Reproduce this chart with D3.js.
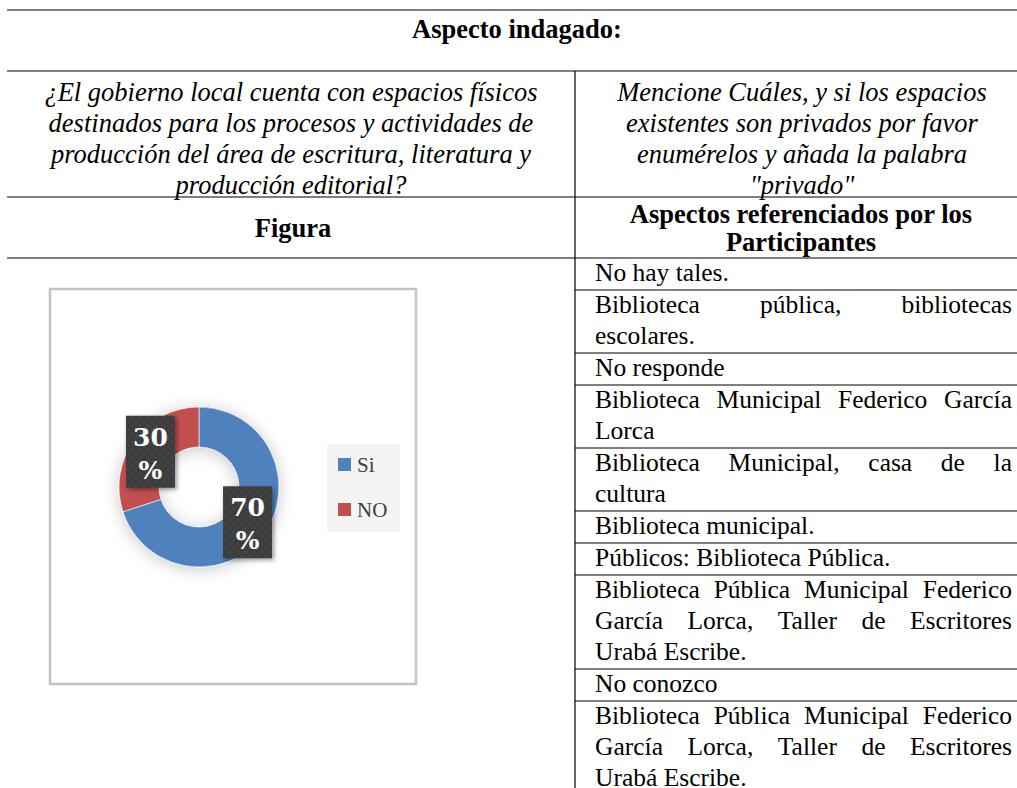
<!DOCTYPE html>
<html>
<head>
<meta charset="utf-8">
<script src="https://cdn.jsdelivr.net/npm/d3@7"></script>
<style>
	body { margin: 0; background: #fff; }
	svg { display: block; }
</style>
</head>
<body>
<div id="chart"></div>
<script>
// data
const categories = ["Si", "NO"];
const values = [70, 30];
const sliceColors = ["#4f81bd", "#c0504d"];

const title = "Aspecto indagado:";
const questionLeft = [
	"¿El gobierno local cuenta con espacios físicos",
	"destinados para los procesos y actividades de",
	"producción del área de escritura, literatura y",
	"producción editorial?"
];
const questionRight = [
	"Mencione Cuáles, y si los espacios",
	"existentes son privados por favor",
	"enumérelos y añada la palabra",
	"\"privado\""
];
const headLeft = "Figura";
const headRight = ["Aspectos referenciados por los", "Participantes"];

const answers = [
	["No hay tales."],
	["Biblioteca pública, bibliotecas", "escolares."],
	["No responde"],
	["Biblioteca Municipal Federico García", "Lorca"],
	["Biblioteca Municipal, casa de la", "cultura"],
	["Biblioteca municipal."],
	["Públicos: Biblioteca Pública."],
	["Biblioteca Pública Municipal Federico", "García Lorca, Taller de Escritores", "Urabá Escribe."],
	["No conozco"],
	["Biblioteca Pública Municipal Federico", "García Lorca, Taller de Escritores", "Urabá Escribe."]
];

const width = 1017;
const height = 788;
const serif = "'Liberation Serif', 'Times New Roman', serif";
const fs = 25.5;
const headFs = 26.5;
const lineH = 31;

const svg = d3.select("#chart")
	.append("svg")
	.attr("width", width)
	.attr("height", height);

const defs = svg.append("defs");

const shadow = defs.append("filter")
	.attr("id", "ringShadow")
	.attr("x", "-30%").attr("y", "-30%")
	.attr("width", "160%").attr("height", "160%");
shadow.append("feDropShadow")
	.attr("dx", 0).attr("dy", 2)
	.attr("stdDeviation", 8)
	.attr("flood-color", "#000")
	.attr("flood-opacity", 0.22);

const boxShadow = defs.append("filter")
	.attr("id", "boxShadow")
	.attr("x", "-30%").attr("y", "-30%")
	.attr("width", "160%").attr("height", "160%");
boxShadow.append("feDropShadow")
	.attr("dx", 2).attr("dy", 2)
	.attr("stdDeviation", 2)
	.attr("flood-color", "#000")
	.attr("flood-opacity", 0.4);

const dots = defs.append("pattern")
	.attr("id", "dots")
	.attr("width", 8).attr("height", 8)
	.attr("patternUnits", "userSpaceOnUse");
dots.append("rect").attr("width", 8).attr("height", 8).attr("fill", "#3d3d3d");
dots.append("circle").attr("cx", 2).attr("cy", 2).attr("r", 1).attr("fill", "#4d4d4d");
dots.append("circle").attr("cx", 6).attr("cy", 6).attr("r", 1).attr("fill", "#4d4d4d");

// table grid
const xLeft = 7;
const xMid = 575;
const xRight = width;
const rowTop = 258;

const grid = svg.append("g")
	.attr("stroke", "#000")
	.attr("stroke-width", 1.2);

[10, 71, 197, rowTop].forEach((y) => {
	grid.append("line")
		.attr("x1", xLeft).attr("x2", xRight)
		.attr("y1", y).attr("y2", y);
});

grid.append("line")
	.attr("x1", xMid).attr("x2", xMid)
	.attr("y1", 71).attr("y2", height);

// row tops for the answers
let rowYs = [];
let yAcc = rowTop;
answers.forEach((lines) => {
	rowYs.push(yAcc);
	yAcc += lines.length * lineH + 1;
});

rowYs.slice(1).forEach((y) => {
	grid.append("line")
		.attr("x1", xMid).attr("x2", xRight)
		.attr("y1", y).attr("y2", y);
});

// headers
svg.append("text")
	.attr("x", (xLeft + xRight) / 2 + 5)
	.attr("y", 38)
	.attr("text-anchor", "middle")
	.attr("font-family", serif)
	.attr("font-weight", "bold")
	.attr("font-size", headFs)
	.text(title);

questionLeft.forEach((t, i) => {
	svg.append("text")
		.attr("x", (xLeft + xMid) / 2)
		.attr("y", 101 + i * lineH)
		.attr("text-anchor", "middle")
		.attr("font-family", serif)
		.attr("font-style", "italic")
		.attr("font-size", headFs)
		.text(t);
});

questionRight.forEach((t, i) => {
	svg.append("text")
		.attr("x", (xMid + xRight) / 2 + 6)
		.attr("y", 101 + i * lineH)
		.attr("text-anchor", "middle")
		.attr("font-family", serif)
		.attr("font-style", "italic")
		.attr("font-size", headFs)
		.text(t);
});

svg.append("text")
	.attr("x", (xLeft + xMid) / 2 + 2)
	.attr("y", 237)
	.attr("text-anchor", "middle")
	.attr("font-family", serif)
	.attr("font-weight", "bold")
	.attr("font-size", headFs)
	.text(headLeft);

headRight.forEach((t, i) => {
	svg.append("text")
		.attr("x", (xMid + xRight) / 2 + 5)
		.attr("y", 223 + i * 28)
		.attr("text-anchor", "middle")
		.attr("font-family", serif)
		.attr("font-weight", "bold")
		.attr("font-size", headFs)
		.text(t);
});

// answers, justified like the document
const textL = 595;
const textR = 1012;

function justifiedLine(g, str, y, justify) {
	const words = str.split(" ");
	if (!justify || words.length < 2) {
		g.append("text")
			.attr("x", textL).attr("y", y)
			.attr("font-family", serif)
			.attr("font-size", fs)
			.text(str);
		return;
	}
	const nodes = words.map((w) => g.append("text")
		.attr("y", y)
		.attr("font-family", serif)
		.attr("font-size", fs)
		.text(w));
	const widths = nodes.map((n) => n.node().getComputedTextLength());
	const gap = (textR - textL - d3.sum(widths)) / (words.length - 1);
	let x = textL;
	nodes.forEach((n, i) => {
		n.attr("x", x);
		x += widths[i] + gap;
	});
}

const answersG = svg.append("g");
answers.forEach((lines, r) => {
	lines.forEach((t, i) => {
		justifiedLine(answersG, t, rowYs[r] + 23 + i * lineH, i < lines.length - 1);
	});
});

// chart frame
svg.append("rect")
	.attr("x", 50).attr("y", 289)
	.attr("width", 366).attr("height", 395)
	.attr("fill", "#fff")
	.attr("stroke", "#c3c3c3")
	.attr("stroke-width", 2.5);

// donut
const cx = 199;
const cy = 487;
const outerR = 80;
const innerR = 40;

const pie = d3.pie().sort(null).value((d) => d);
const arc = d3.arc().innerRadius(innerR).outerRadius(outerR);
const color = d3.scaleOrdinal().domain(categories).range(sliceColors);

const arcs = pie(values);

const donut = svg.append("g")
	.attr("transform", "translate(" + cx + "," + cy + ")");

donut.append("g")
	.attr("filter", "url(#ringShadow)")
	.selectAll("path")
	.data(arcs)
	.enter()
	.append("path")
	.attr("d", arc)
	.attr("fill", (d, i) => color(categories[i]))
	.attr("stroke", "#fff")
	.attr("stroke-width", 0.6);

// data labels
const boxW = 49;
const boxH = 72;
const labels = donut.selectAll("g.label")
	.data(arcs)
	.enter()
	.append("g")
	.attr("class", "label")
	.attr("transform", (d) => "translate(" + arc.centroid(d) + ")");

labels.append("rect")
	.attr("x", -boxW / 2).attr("y", -boxH / 2)
	.attr("width", boxW).attr("height", boxH)
	.attr("fill", "url(#dots)")
	.attr("filter", "url(#boxShadow)");

labels.append("text")
	.attr("y", -6)
	.attr("text-anchor", "middle")
	.attr("font-family", "'DejaVu Serif', serif")
	.attr("font-weight", "bold")
	.attr("font-size", 25)
	.attr("fill", "#fff")
	.text((d) => d.data);

labels.append("text")
	.attr("y", 27)
	.attr("text-anchor", "middle")
	.attr("font-family", "'DejaVu Serif', serif")
	.attr("font-weight", "bold")
	.attr("font-size", 25)
	.attr("fill", "#fff")
	.text("%");

// legend
const legend = svg.append("g");
legend.append("rect")
	.attr("x", 327).attr("y", 444)
	.attr("width", 73).attr("height", 88)
	.attr("fill", "#f4f4f4");

const legendItems = legend.selectAll("g.item")
	.data(categories)
	.enter()
	.append("g")
	.attr("class", "item")
	.attr("transform", (d, i) => "translate(338," + (458 + i * 45) + ")");

legendItems.append("rect")
	.attr("width", 13).attr("height", 13)
	.attr("fill", (d) => color(d));

legendItems.append("text")
	.attr("x", 19).attr("y", 14)
	.attr("font-family", "'Liberation Serif', serif")
	.attr("font-size", 21)
	.attr("fill", "#404040")
	.text((d) => d);
</script>
</body>
</html>
